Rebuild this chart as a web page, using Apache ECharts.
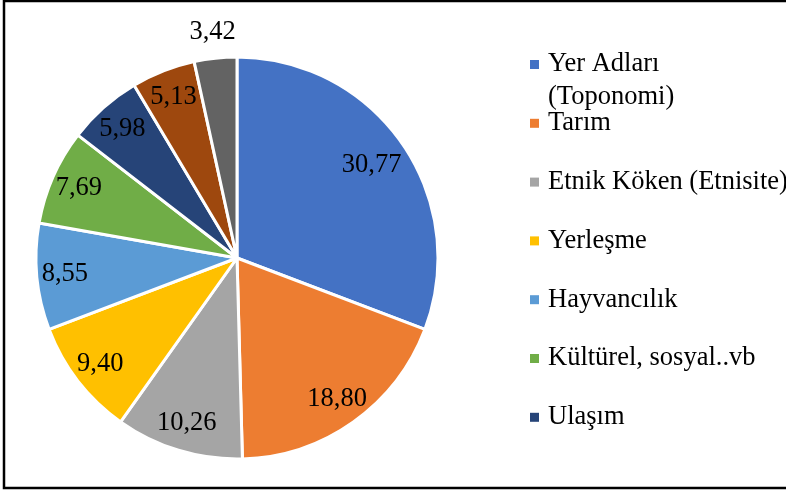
<!DOCTYPE html>
<html>
<head>
<meta charset="utf-8">
<script src="https://cdn.jsdelivr.net/npm/echarts@6/dist/echarts.min.js"></script>
<style>
  html, body { margin: 0; padding: 0; background: #fff; }
  #chart { width: 786px; height: 492px; }
</style>
</head>
<body>
<div id="chart"></div>
<script>
// Category names and their percentage shares (sum = 100)
const categories = [
  'Yer Adları (Toponomi)',
  'Tarım',
  'Etnik Köken (Etnisite)',
  'Yerleşme',
  'Hayvancılık',
  'Kültürel, sosyal..vb',
  'Ulaşım',
  'Diğer A',
  'Diğer B'
];
const shares = [30.77, 18.80, 10.26, 9.40, 8.55, 7.69, 5.98, 5.13, 3.42];
const legendNames = categories.slice(0, 7);

const palette = ['#4472C4', '#ED7D31', '#A5A5A5', '#FFC000', '#5B9BD5',
                 '#70AD47', '#264478', '#9E480E', '#636363'];

const FONT = "'Liberation Serif', 'Times New Roman', serif";
const CX = 237, CY = 258, R = 201;

const chart = echarts.init(document.getElementById('chart'), null, { renderer: 'canvas' });

// Push labels from the sector midpoint out towards the rim;
// very thin slices get their label just outside the pie,
// the widest slice keeps it a little further in.
function placeLabel(p) {
  const rect = p.labelRect;
  const lx = rect.x + rect.width / 2;
  const ly = rect.y + rect.height / 2;
  const v = shares[p.dataIndex];
  const k = v < 4 ? 2.2 : (v > 25 ? 1.58 : 1.67);
  return { x: CX + (lx - CX) * k, y: CY + (ly - CY) * k };
}

chart.setOption({
  backgroundColor: '#ffffff',
  animation: false,
  color: palette,
  legend: {
    orient: 'vertical',
    left: 530,
    top: 51,
    padding: 0,
    itemWidth: 9,
    itemHeight: 9,
    itemGap: 31.8,
    icon: 'rect',
    itemStyle: { borderWidth: 0 },
    data: legendNames,
    formatter: name => name === categories[0] ? 'Yer Adları' : name,
    textStyle: {
      fontFamily: FONT,
      fontSize: 26.5,
      lineHeight: 26,
      color: '#000',
      padding: [0, 0, 0, 4]
    },
    selectedMode: false
  },
  graphic: [
    {
      type: 'text',
      left: 548,
      top: 84,
      style: { text: '(Toponomi)', font: '26.5px ' + FONT, fill: '#000' },
      silent: true
    },
    {
      type: 'rect',
      shape: { x: 4, y: 1, width: 810, height: 487 },
      style: { fill: null, stroke: '#000', lineWidth: 2.5 },
      silent: true
    }
  ],
  series: [{
    type: 'pie',
    center: [CX, CY],
    radius: [0, R],
    startAngle: 90,
    clockwise: true,
    avoidLabelOverlap: false,
    itemStyle: { borderColor: '#ffffff', borderWidth: 3 },
    label: {
      show: true,
      position: 'inside',
      fontFamily: FONT,
      fontSize: 26.5,
      color: '#000',
      formatter: p => p.value.toFixed(2).replace('.', ',')
    },
    labelLine: { show: false },
    labelLayout: placeLabel,
    emphasis: { disabled: true },
    data: categories.map((name, i) => ({ name, value: shares[i] }))
  }]
});
</script>
</body>
</html>
